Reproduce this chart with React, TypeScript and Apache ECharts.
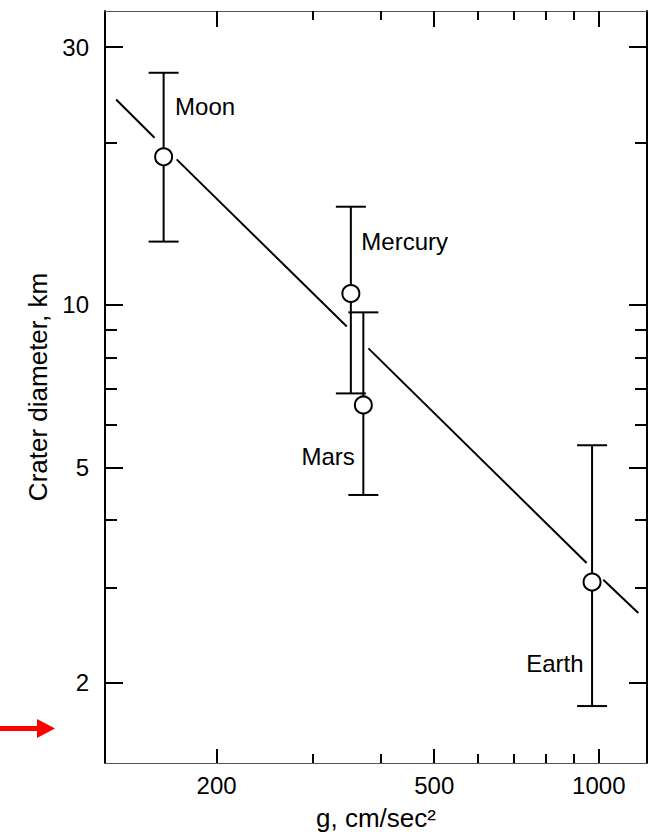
import React, { useEffect, useRef } from 'react';
import * as echarts from 'echarts';

// ---- data ----
const planets = ['Moon', 'Mercury', 'Mars', 'Earth'];
const gravity = [160, 352, 371, 972]; // g, cm/sec^2
const craterDiameter = [18.8, 10.5, 6.53, 3.07]; // km
const diameterLow = [13.1, 6.86, 4.45, 1.81];
const diameterHigh = [26.9, 15.2, 9.69, 5.5];

// fitted line, drawn as broken segments (pairs of points)
const fitGravity = [131, 154, 169, 346, 379, 950, 1019, 1181];
const fitDiameter = [24.0, 20.4, 18.6, 9.12, 8.31, 3.33, 3.1, 2.69];

const xMajorTicks = [200, 500, 1000];
const xMinorTicks = [300, 400, 600, 700, 800, 900];
const yMajorTicks = [2, 5, 10, 30];
const yMinorTicks = [3, 4, 6, 7, 8, 9, 20];
const xRange = [125, 1225];
const yRange = [1.42, 35];

const xTitle = 'g, cm/sec\u00B2';
const yTitle = 'Crater diameter, km';

const FONT = '"Liberation Sans", Arial, Helvetica, sans-serif';

const labelPlacement: Record<string, { position: string; offset: number[] }> = {
  Moon: { position: 'right', offset: [-3, -50] },
  Mercury: { position: 'right', offset: [-4, -52] },
  Mars: { position: 'left', offset: [6, 52] },
  Earth: { position: 'left', offset: [6, 81] },
};

function makeAxis(
  kind: 'x' | 'y',
  position: string,
  ticks: number[],
  tickLength: number,
  withLine: boolean,
  withLabels: boolean,
  lineWidth: number,
  lineColor: string
) {
  const range = kind === 'x' ? xRange : yRange;
  const a: any = {
    type: 'log',
    logBase: 10,
    position,
    min: range[0],
    max: range[1],
    splitLine: { show: false },
    axisLine: {
      show: withLine,
      onZero: false,
      lineStyle: { color: lineColor, width: lineWidth },
    },
    axisTick: {
      show: true,
      inside: true,
      length: tickLength,
      customValues: ticks,
      lineStyle: { color: '#000', width: 2 },
    },
    axisLabel: withLabels
      ? {
          show: true,
          customValues: ticks,
          formatter: (v: number) => String(Math.round(v * 100) / 100),
          color: '#000',
          fontSize: 24,
          fontFamily: FONT,
          margin: kind === 'x' ? 10 : 16,
        }
      : { show: false },
  };
  return a;
}

export default function App() {
  const ref = useRef<HTMLDivElement>(null);

  useEffect(() => {
    if (!ref.current) return;
    const chart = echarts.init(ref.current, undefined, { renderer: 'svg' });

    const xMain = makeAxis('x', 'bottom', xMajorTicks, 14, true, true, 1.2, '#555');
    xMain.name = xTitle;
    xMain.nameLocation = 'middle';
    xMain.nameGap = 42;
    xMain.nameTextStyle = { color: '#000', fontSize: 26, fontFamily: FONT };

    const yMain = makeAxis('y', 'left', yMajorTicks, 18, true, true, 2, '#000');
    yMain.name = yTitle;
    yMain.nameLocation = 'middle';
    yMain.nameGap = 52;
    yMain.nameTextStyle = { color: '#000', fontSize: 26, fontFamily: FONT };

    const xAxes = [
      xMain,
      makeAxis('x', 'bottom', xMinorTicks, 9, false, false, 1, '#000'),
      makeAxis('x', 'top', xMajorTicks, 16, true, false, 1.2, '#555'),
      makeAxis('x', 'top', xMinorTicks, 9, false, false, 1, '#000'),
    ];
    const yAxes = [
      yMain,
      makeAxis('y', 'left', yMinorTicks, 12, false, false, 1, '#000'),
      makeAxis('y', 'right', yMajorTicks, 18, true, false, 2, '#000'),
      makeAxis('y', 'right', yMinorTicks, 12, false, false, 1, '#000'),
    ];

    const fitSeries: any[] = [];
    for (let i = 0; i + 1 < fitGravity.length; i += 2) {
      fitSeries.push({
        type: 'line',
        xAxisIndex: 0,
        yAxisIndex: 0,
        data: [
          [fitGravity[i], fitDiameter[i]],
          [fitGravity[i + 1], fitDiameter[i + 1]],
        ],
        symbol: 'none',
        lineStyle: { color: '#000', width: 2 },
        z: 2,
        silent: true,
      });
    }

    const errData = planets.map((_, i) => [gravity[i], diameterLow[i], diameterHigh[i]]);
    const capHalf = 15;

    const option: any = {
      animation: false,
      backgroundColor: '#fff',
      grid: {
        left: 105,
        right: 11,
        top: 11,
        bottom: 69,
        containLabel: false,
        outerBoundsMode: 'none',
      },
      xAxis: xAxes,
      yAxis: yAxes,
      graphic: [
        { type: 'rect', shape: { x: 0, y: 726, width: 38, height: 5 }, style: { fill: '#ff0000' } },
        {
          type: 'polygon',
          shape: { points: [[37, 719], [55, 728.5], [37, 738]] },
          style: { fill: '#ff0000' },
        },
      ],
      series: [
        ...fitSeries,
        {
          type: 'custom',
          xAxisIndex: 0,
          yAxisIndex: 0,
          data: errData,
          encode: { x: 0, y: [1, 2] },
          z: 3,
          silent: true,
          renderItem: (params: any, api: any) => {
            const x = api.value(0);
            const lo = api.coord([x, api.value(1)]);
            const hi = api.coord([x, api.value(2)]);
            const style = { stroke: '#000', lineWidth: 2 };
            return {
              type: 'group',
              children: [
                { type: 'line', shape: { x1: lo[0], y1: lo[1], x2: hi[0], y2: hi[1] }, style },
                { type: 'line', shape: { x1: hi[0] - capHalf, y1: hi[1], x2: hi[0] + capHalf, y2: hi[1] }, style },
                { type: 'line', shape: { x1: lo[0] - capHalf, y1: lo[1], x2: lo[0] + capHalf, y2: lo[1] }, style },
              ],
            };
          },
        },
        {
          type: 'scatter',
          xAxisIndex: 0,
          yAxisIndex: 0,
          symbol: 'circle',
          symbolSize: 17,
          z: 4,
          itemStyle: { color: '#fff', borderColor: '#000', borderWidth: 2, opacity: 1 },
          data: planets.map((name, i) => ({
            name,
            value: [gravity[i], craterDiameter[i]],
            label: {
              show: true,
              formatter: name,
              position: labelPlacement[name].position,
              offset: labelPlacement[name].offset,
              distance: 5,
              color: '#000',
              fontSize: 24,
              fontFamily: FONT,
            },
          })),
        },
      ],
    };

    chart.setOption(option);
    return () => chart.dispose();
  }, []);

  return (
    <div
      ref={ref}
      style={{ position: 'fixed', left: 0, top: 0, width: 658, height: 832, background: '#fff' }}
    />
  );
}
